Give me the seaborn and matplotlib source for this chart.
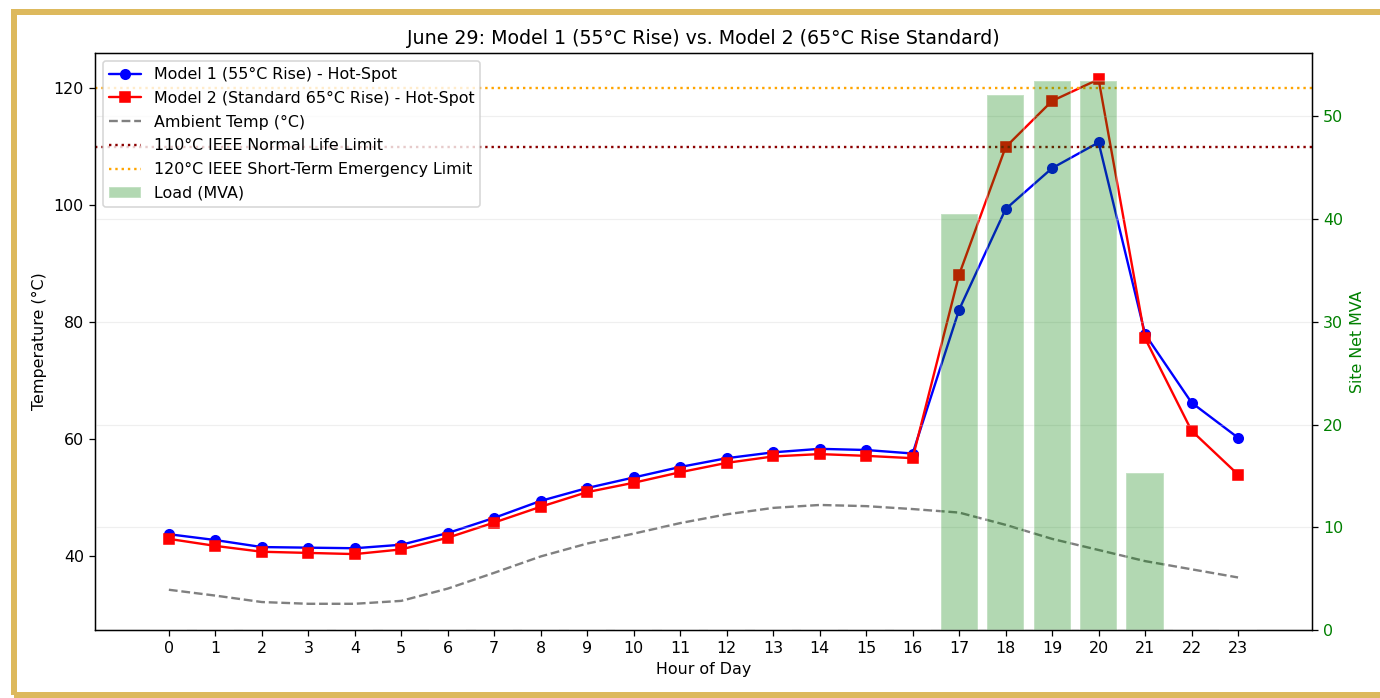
import numpy as np
import pandas as pd
import matplotlib
matplotlib.use("Agg")
import matplotlib.pyplot as plt
import seaborn as sns

# Dados
hours = list(range(24))
model1_hotspot = [43.7, 42.7, 41.5, 41.4, 41.3, 41.9, 43.9, 46.5, 49.4, 51.6, 53.4, 55.2,
                  56.7, 57.7, 58.3, 58.1, 57.5, 82.1, 99.3, 106.3, 110.7, 77.9, 66.2, 60.2]
model2_hotspot = [42.9, 41.7, 40.7, 40.5, 40.3, 41.1, 43.1, 45.7, 48.4, 50.9, 52.5, 54.3,
                  55.9, 57.0, 57.4, 57.1, 56.7, 88.1, 109.9, 117.8, 121.5, 77.2, 61.4, 53.9]
ambient = [34.2, 33.2, 32.1, 31.8, 31.8, 32.3, 34.4, 37.1, 39.9, 42.1, 43.8, 45.6,
           47.1, 48.2, 48.7, 48.5, 48.0, 47.4, 45.3, 42.9, 41.0, 39.1, 37.7, 36.3]
load_mva = [0, 0, 0, 0, 0, 0, 0, 0, 0, 0, 0, 0,
            0, 0, 0, 0, 0, 40.5, 52.1, 53.5, 53.5, 15.3, 0, 0]
normal_limit = 110
emergency_limit = 120

df = pd.DataFrame({"hour": hours, "m1": model1_hotspot, "m2": model2_hotspot,
                   "amb": ambient, "load": load_mva})

sns.set_style("white")
plt.rcParams['font.family'] = ['DejaVu Sans']
plt.rcParams.update({"text.color": "black", "axes.labelcolor": "black",
                     "xtick.color": "black", "ytick.color": "black",
                     "axes.edgecolor": "black"})

DPI = 114
fig, ax1 = plt.subplots(figsize=(1380 / DPI, 698 / DPI), dpi=DPI)
fig.subplots_adjust(left=0.0688, right=0.9507, bottom=0.0974, top=0.924)

sns.lineplot(data=df, x="hour", y="m1", ax=ax1, color="blue", marker="o", markersize=6,
             markeredgecolor="blue", markeredgewidth=1, label="Model 1 (55°C Rise) - Hot-Spot")
sns.lineplot(data=df, x="hour", y="m2", ax=ax1, color="red", marker="s", markersize=6,
             markeredgecolor="red", markeredgewidth=1,
             label="Model 2 (Standard 65°C Rise) - Hot-Spot")
sns.lineplot(data=df, x="hour", y="amb", ax=ax1, color="gray", linestyle="--",
             label="Ambient Temp (°C)")
ax1.axhline(normal_limit, color="darkred", linestyle=":", linewidth=1.5,
            label="110°C IEEE Normal Life Limit")
ax1.axhline(emergency_limit, color="orange", linestyle=":", linewidth=1.5,
            label="120°C IEEE Short-Term Emergency Limit")

ax1.set_xlabel("Hour of Day")
ax1.set_ylabel("Temperature (°C)")
ax1.set_xticks(hours)
ax1.set_title("June 29: Model 1 (55°C Rise) vs. Model 2 (65°C Rise Standard)", fontsize=12)
ax1.tick_params(left=True, bottom=True, length=3.5)

# Eixo secundário com a carga
ax2 = ax1.twinx()
ax2.bar(df["hour"], df["load"], width=0.8, color="green", alpha=0.3, label="Load (MVA)")
ax2.set_ylabel("Site Net MVA", color="green")
ax2.tick_params(axis="y", labelcolor="green", right=True, left=False, length=3.5)
ax2.grid(True, axis="y", alpha=0.3)
ax1.set_xlim(-1.59, 24.59)

h1, l1 = ax1.get_legend_handles_labels()
h2, l2 = ax2.get_legend_handles_labels()
ax1.get_legend().remove()
ax2.legend(h1 + h2, l1 + l2, loc="upper left", labelspacing=0.55)

# Moldura dourada
fig.add_artist(plt.Rectangle((0.01014, 0.0043), 0.9913, 0.9785, transform=fig.transFigure,
                             fill=False, edgecolor="#DDB95D", linewidth=6 * 72 / DPI,
                             clip_on=False))

plt.savefig("out.png", dpi=DPI)
